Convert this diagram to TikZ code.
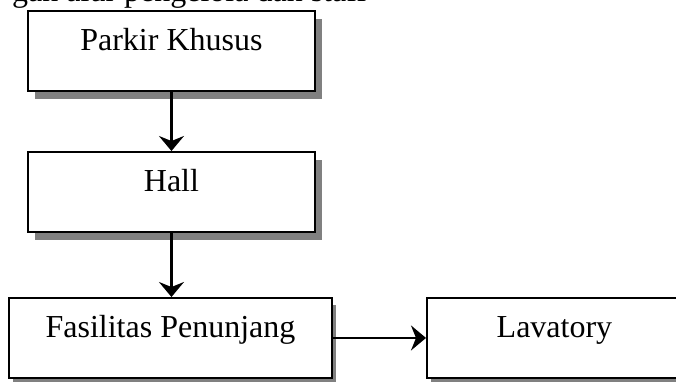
\documentclass[tikz,border=0pt]{standalone}
\usepackage{fontspec}
\setmainfont{Liberation Serif}
\usetikzlibrary{arrows.meta,shadows}
\definecolor{shadowgray}{RGB}{128,128,128}
\tikzset{
  flowbox/.style={draw=black, line width=1.9pt, fill=white,
    minimum height=80pt, inner xsep=0pt, inner ysep=0pt,
    text height=24pt, text depth=24pt, anchor=north west,
    font=\fontsize{32}{38}\selectfont},
  bigshadow/.style={general shadow={fill=shadowgray, shadow xshift=7pt, shadow yshift=-8pt}},
  smallshadow/.style={general shadow={fill=shadowgray, shadow xshift=4pt, shadow yshift=-7pt}},
  flowarrow/.style={line width=2.2pt, -{Stealth[length=15pt,width=25pt,inset=5pt]}},
}
\begin{document}
\begin{tikzpicture}[x=1pt,y=-1pt]
\useasboundingbox (0,0) rectangle (676,381);
\clip (0,0) rectangle (676,381);
% running text line above the chart, cut by the page edge
\node[anchor=base west, inner sep=0pt, font=\fontsize{32}{38}\selectfont] (caption) at (12,1) {gan alur pengelola dan staff};
% boxes
\node[flowbox, bigshadow, minimum width=287pt] (parkir) at (27,10) {Parkir Khusus};
\node[flowbox, bigshadow, minimum width=287pt] (hall) at (27,151) {Hall};
\node[flowbox, smallshadow, minimum width=323pt] (fas) at (8,297) {Fasilitas Penunjang};
\node[flowbox, smallshadow, minimum width=255pt] (lav) at (426,297) {Lavatory};
% connectors
\draw[flowarrow] (parkir.south) -- (hall.north);
\draw[flowarrow] (hall.south) -- (hall.south |- fas.north);
\draw[flowarrow] (fas.east) -- (lav.west);
\end{tikzpicture}
\end{document}
